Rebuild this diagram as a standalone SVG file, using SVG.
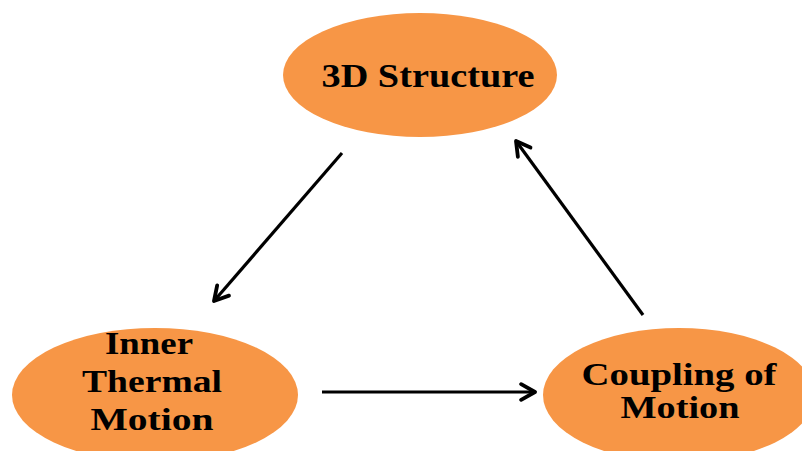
<svg xmlns="http://www.w3.org/2000/svg" width="802" height="451" viewBox="0 0 802 451">
  <style>
    .node { fill: #F79646; }
    .label { font-family: "Liberation Serif", "Times New Roman", serif; font-weight: bold; fill: #000; text-anchor: middle; }
    .edge { stroke: #000; stroke-width: 3.2; fill: none; marker-end: url(#head); }
  </style>
  <defs>
    <marker id="head" viewBox="0 0 12 12" refX="10" refY="6" markerWidth="6.5" markerHeight="6.5" orient="auto" markerUnits="strokeWidth">
      <path d="M2,1.5 L10,6 L2,10.5" fill="none" stroke="#000" stroke-width="2.2" stroke-linecap="round" stroke-linejoin="round"/>
    </marker>
  </defs>
  <rect width="802" height="451" fill="#fff"/>

  <g id="node-3d-structure">
    <ellipse class="node" cx="420" cy="75" rx="137" ry="62"/>
    <text class="label" x="428" y="87" font-size="34" textLength="213" lengthAdjust="spacingAndGlyphs">3D Structure</text>
  </g>

  <g id="node-inner-thermal-motion">
    <ellipse class="node" cx="155" cy="395" rx="143" ry="67"/>
    <text class="label" x="149" y="354" font-size="31" textLength="88" lengthAdjust="spacingAndGlyphs">Inner</text>
    <text class="label" x="152" y="392" font-size="31" textLength="140" lengthAdjust="spacingAndGlyphs">Thermal</text>
    <text class="label" x="152" y="430" font-size="31" textLength="123" lengthAdjust="spacingAndGlyphs">Motion</text>
  </g>

  <g id="node-coupling-of-motion">
    <ellipse class="node" cx="679" cy="395" rx="136" ry="67"/>
    <text class="label" x="679" y="385" font-size="31" textLength="195" lengthAdjust="spacingAndGlyphs">Coupling of</text>
    <text class="label" x="680" y="418" font-size="31" textLength="119" lengthAdjust="spacingAndGlyphs">Motion</text>
  </g>

  <g id="connectors">
    <line class="edge" x1="342" y1="153" x2="214" y2="301"/>
    <line class="edge" x1="322" y1="392" x2="535" y2="392"/>
    <line class="edge" x1="643" y1="315" x2="516" y2="141"/>
  </g>
</svg>
